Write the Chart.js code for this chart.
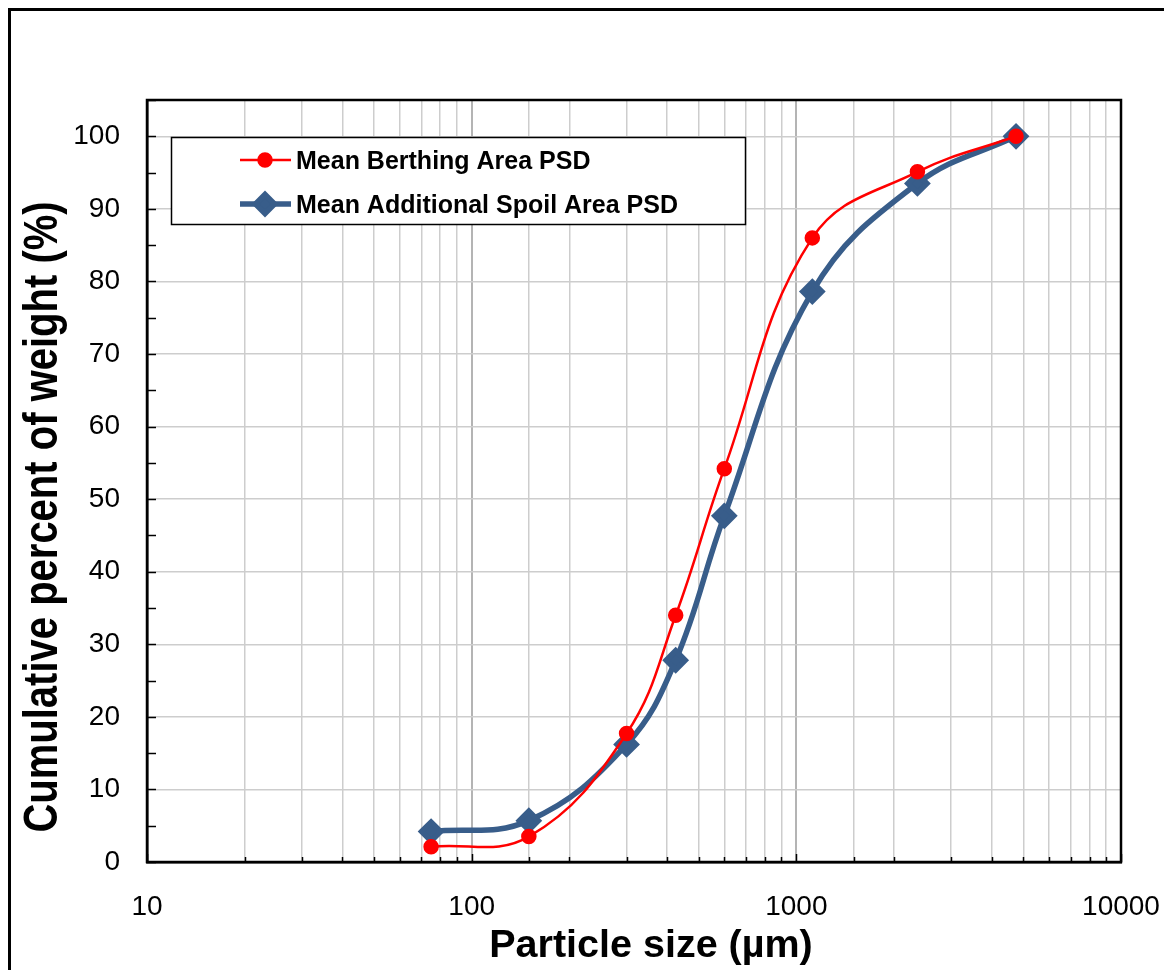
<!DOCTYPE html>
<html><head><meta charset="utf-8">
<script src="https://cdn.jsdelivr.net/npm/chart.js@4.4.1/dist/chart.umd.min.js"></script>
<style>html,body{margin:0;padding:0;background:#fff;} canvas{display:block;}</style>
</head><body>
<canvas id="c" width="1164" height="970"></canvas>
<script>
// ---- data ----
const particleSizes   = [75, 150, 300, 425, 600, 1120, 2360, 4750];
const berthingPercent = [2.1, 3.5, 17.7, 34.0, 54.2, 86.0, 95.1, 100];
const spoilPercent    = [4.2, 5.7, 16.2, 27.8, 47.7, 78.6, 93.5, 100];
const seriesNames     = ['Mean Berthing Area PSD', 'Mean Additional Spoil Area PSD'];
const xTickLabels     = [10, 100, 1000, 10000];
const yTickLabels     = [0, 10, 20, 30, 40, 50, 60, 70, 80, 90, 100];
const xTitle = 'Particle size (µm)';
const yTitle = 'Cumulative percent of weight (%)';

const FONT = '"Liberation Sans", Arial, Helvetica, sans-serif';
const RED = '#ff0000';
const BLUE = '#385D8A';

const toPoints = (xs, ys) => xs.map((x, i) => ({x: x, y: ys[i]}));

const framePlugin = {
  id: 'frame',
  beforeDraw(chart) {
    const ctx = chart.ctx;
    ctx.save();
    ctx.fillStyle = '#fff';
    ctx.fillRect(0, 0, chart.width, chart.height);
    ctx.strokeStyle = '#000';
    ctx.lineWidth = 3;
    ctx.beginPath();
    ctx.moveTo(9.5, chart.height);
    ctx.lineTo(9.5, 9.5);
    ctx.lineTo(chart.width, 9.5);
    ctx.stroke();
    ctx.restore();
  }
};

const plotPlugin = {
  id: 'plotBox',
  beforeDatasetsDraw(chart) {
    const ctx = chart.ctx, a = chart.chartArea;
    const xs = chart.scales.x, ys = chart.scales.y;
    ctx.save();
    ctx.strokeStyle = '#000';
    ctx.lineWidth = 1.5;
    // inward ticks on y axis
    ys.ticks.forEach(t => {
      const py = Math.round(ys.getPixelForValue(t.value)) + 0.5;
      ctx.beginPath(); ctx.moveTo(a.left, py); ctx.lineTo(a.left + 9, py); ctx.stroke();
    });
    // inward ticks on x axis
    xs.ticks.forEach(t => {
      const px = Math.round(xs.getPixelForValue(t.value)) + 0.5;
      const major = xTickLabels.includes(t.value);
      ctx.beginPath(); ctx.moveTo(px, a.bottom); ctx.lineTo(px, a.bottom - (major ? 8 : 5)); ctx.stroke();
    });
    ctx.lineWidth = 2.5;
    ctx.strokeRect(a.left, a.top, a.right - a.left, a.bottom - a.top);
    ctx.restore();
  }
};

const decorPlugin = {
  id: 'decor',
  afterDraw(chart) {
    const ctx = chart.ctx, a = chart.chartArea;
    ctx.save();
    // axis titles
    ctx.fillStyle = '#000';
    ctx.font = 'bold 39.5px ' + FONT;
    ctx.textAlign = 'center';
    ctx.textBaseline = 'alphabetic';
    ctx.fillText(xTitle, (a.left + a.right) / 2 + 17, a.bottom + 95);

    ctx.save();
    ctx.translate(57, (a.top + a.bottom) / 2 + 36);
    ctx.rotate(-Math.PI / 2);
    ctx.scale(1, 1.2);
    ctx.font = 'bold 40px ' + FONT;
    ctx.fillText(yTitle, 0, 0);
    ctx.restore();

    // legend box
    const bx = a.left + 24, by = a.top + 37, bw = 574, bh = 87;
    ctx.fillStyle = '#fff';
    ctx.fillRect(bx, by, bw, bh);
    ctx.strokeStyle = '#000';
    ctx.lineWidth = 1.5;
    ctx.strokeRect(bx + 0.5, by + 0.5, bw, bh);

    chart.data.datasets.forEach((ds, i) => {
      const y = by + 23 + i * 44;
      ctx.strokeStyle = ds.borderColor;
      ctx.lineWidth = ds.borderWidth;
      ctx.beginPath(); ctx.moveTo(bx + 69, y); ctx.lineTo(bx + 120, y); ctx.stroke();
      ctx.fillStyle = ds.pointBackgroundColor;
      ctx.strokeStyle = ds.pointBorderColor;
      Chart.helpers.drawPoint(ctx, {pointStyle: ds.pointStyle, radius: ds.pointRadius, rotation: 0, borderWidth: 1}, bx + 94, y);
      ctx.fillStyle = '#000';
      ctx.font = 'bold 25px ' + FONT;
      ctx.textAlign = 'left';
      ctx.textBaseline = 'alphabetic';
      ctx.fillText(ds.label, bx + 125, y + 9);
    });
    ctx.restore();
  }
};

new Chart(document.getElementById('c'), {
  type: 'line',
  data: {
    datasets: [
      {
        label: seriesNames[0],
        data: toPoints(particleSizes, berthingPercent),
        borderColor: RED, backgroundColor: RED,
        pointBackgroundColor: RED, pointBorderColor: RED,
        borderWidth: 2.5, pointRadius: 6.5, pointStyle: 'circle',
        tension: 0.4, fill: false
      },
      {
        label: seriesNames[1],
        data: toPoints(particleSizes, spoilPercent),
        borderColor: BLUE, backgroundColor: BLUE,
        pointBackgroundColor: BLUE, pointBorderColor: BLUE,
        borderWidth: 5.5, pointRadius: 9.5, pointStyle: 'rectRot',
        tension: 0.4, fill: false
      }
    ]
  },
  options: {
    responsive: false,
    animation: false,
    devicePixelRatio: 1,
    layout: {padding: {left: 0, top: 100, right: 43, bottom: 0}},
    plugins: {legend: {display: false}, tooltip: {enabled: false}},
    scales: {
      x: {
        type: 'logarithmic',
        min: 10, max: 10000,
        afterFit(s) { s.height = 108; s.paddingLeft = 0; s.paddingRight = 0; },
        grid: {
          drawTicks: false,
          color: c => xTickLabels.includes(c.tick && c.tick.value) ? '#b4b4b4' : '#cdcdcd',
          lineWidth: c => xTickLabels.includes(c.tick && c.tick.value) ? 2 : 1.5
        },
        border: {display: true, color: '#000', width: 2.5},
        ticks: {
          autoSkip: false, maxRotation: 0, padding: 28,
          color: '#000',
          font: {family: FONT, size: 28},
          callback: v => xTickLabels.includes(v) ? String(v) : ''
        }
      },
      y: {
        min: 0, max: 105,
        afterFit(s) { s.width = 147; s.paddingTop = 0; s.paddingBottom = 0; },
        grid: {
          drawTicks: false,
          color: c => yTickLabels.includes(c.tick && c.tick.value) ? '#cdcdcd' : 'rgba(0,0,0,0)',
          lineWidth: 1.5
        },
        border: {display: true, color: '#000', width: 2.5},
        ticks: {
          stepSize: 5, autoSkip: false, padding: 27,
          color: '#000',
          font: {family: FONT, size: 28},
          callback: v => yTickLabels.includes(v) ? String(v) : ''
        }
      }
    }
  },
  plugins: [framePlugin, plotPlugin, decorPlugin]
});
</script>
</body></html>
